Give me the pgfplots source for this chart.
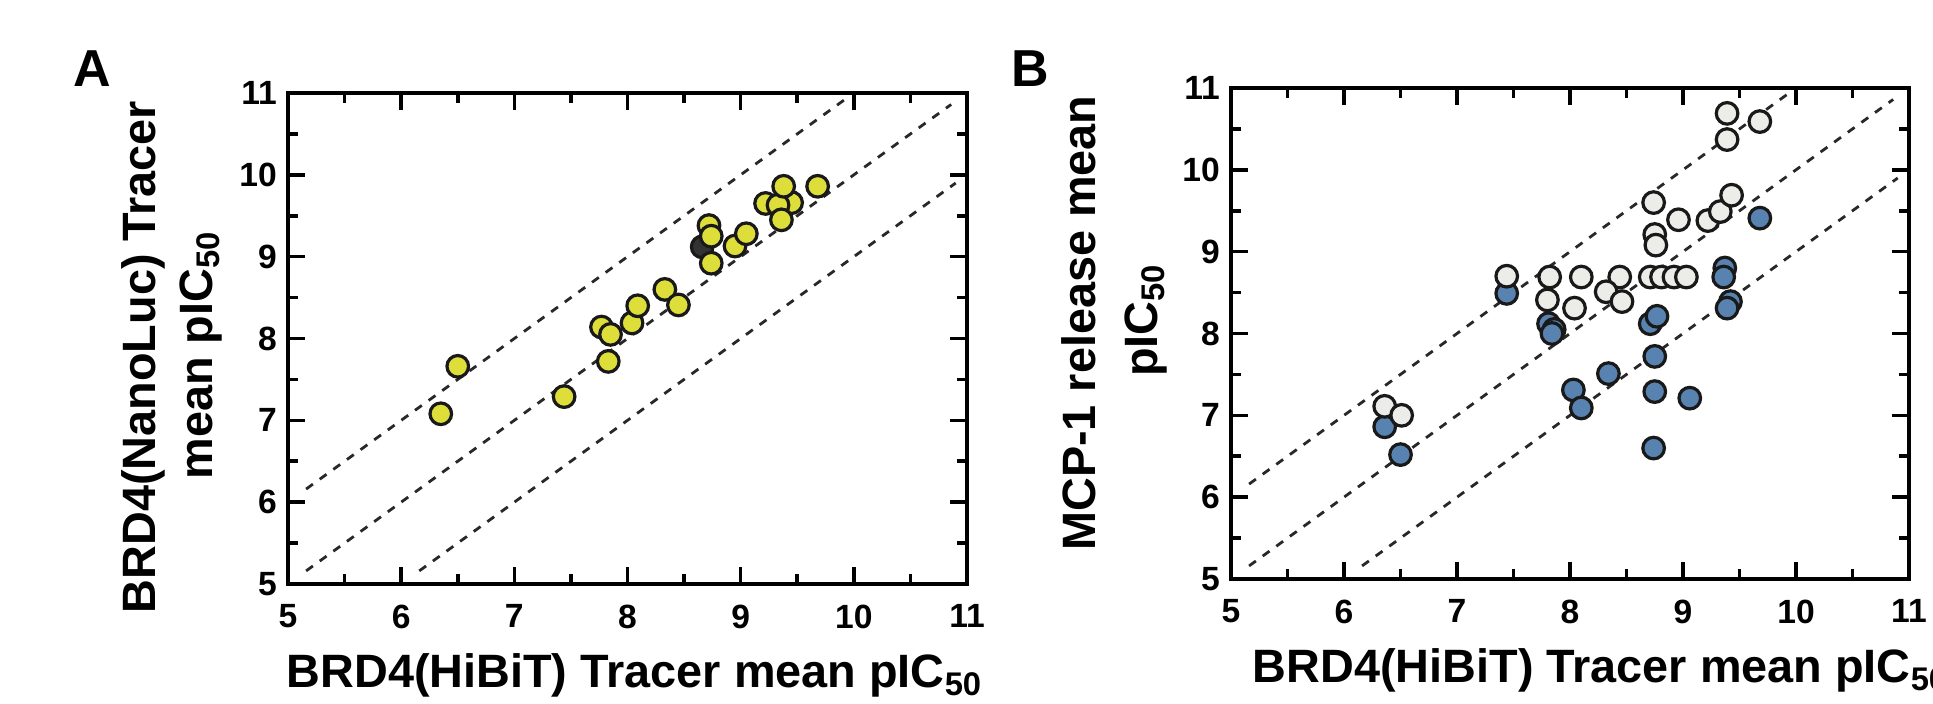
\documentclass[border=0pt]{standalone}
\usepackage{pgfplots}
\pgfplotsset{compat=1.18}
\usepackage{fontspec}
\setmainfont{Liberation Sans}
\definecolor{yel}{RGB}{222,222,58}
\definecolor{blu}{RGB}{88,130,175}
\definecolor{opn}{RGB}{236,236,232}
\definecolor{edge}{RGB}{25,25,25}
\definecolor{guidecol}{RGB}{40,40,40}
\pgfplotsset{
  panel/.style={
    scale only axis, width=169.75pt, height=122.75pt,
    xmin=5, xmax=11, ymin=5, ymax=11,
    xtick={5,6,...,11}, ytick={5,6,...,11},
    minor x tick num=1, minor y tick num=1,
    tick align=inside,
    major tick length=4.2pt, minor tick length=2.4pt,
    axis line style={line width=1.1pt},
    every tick/.style={black, line width=0.9pt},
    /pgf/number format/assume math mode=true,
    tick label style={font=\bfseries\fontsize{8.4}{10}\selectfont},
    xticklabel style={anchor=north, inner sep=0pt, yshift=-5pt},
    yticklabel style={anchor=east, inner sep=0pt, xshift=-2.6pt},
    clip=false,
  },
  guide/.style={color=guidecol, line width=0.7pt, dash pattern=on 2.1pt off 2.1pt},
  dot/.style={only marks, mark=*, mark size=2.7pt,
    mark options={fill=#1, draw=edge, line width=0.8pt}},
}
\begin{document}
\begin{tikzpicture}
\path[use as bounding box] (0,0) rectangle (483.25pt,176pt);

% ---------------- Panel A ----------------
\begin{axis}[panel, at={(72pt,30pt)}, anchor=south west]
\addplot[guide] coordinates {(5.16,6.16) (9.93,10.93)};
\addplot[guide] coordinates {(5.16,5.16) (10.86,10.86)};
\addplot[guide] coordinates {(6.16,5.16) (10.9,9.9)};
\addplot[dot=black!80] coordinates {(8.66,9.12)};
\addplot[dot=yel] coordinates {
(6.35,7.08) (6.50,7.66) (7.44,7.29) (7.83,7.72) (7.77,8.14) (7.85,8.05)
(8.04,8.19) (8.09,8.40) (8.33,8.60) (8.45,8.41) (8.72,9.38) (8.74,9.25)
(8.74,8.92) (8.95,9.13) (9.05,9.28) (9.22,9.65) (9.45,9.66) (9.33,9.63)
(9.38,9.86) (9.36,9.45) (9.68,9.86)
};
\end{axis}

% ---------------- Panel B ----------------
\begin{axis}[panel, at={(307.75pt,31.25pt)}, anchor=south west, width=169.5pt]
\addplot[guide] coordinates {(5.16,6.16) (9.93,10.93)};
\addplot[guide] coordinates {(5.16,5.16) (10.86,10.86)};
\addplot[guide] coordinates {(6.16,5.16) (10.9,9.9)};
\addplot[dot=blu] coordinates {
(7.44,8.49) (7.81,8.12) (7.86,8.05) (7.84,8.00)
(8.71,8.12) (8.77,8.21)
(9.37,8.80) (9.36,8.69) (9.42,8.39) (9.39,8.31)
(8.75,7.72) (8.34,7.51) (8.03,7.31) (8.10,7.09) (8.75,7.29) (9.06,7.21)
(8.74,6.60) (9.68,9.41) (6.36,6.86) (6.50,6.52)
};
\addplot[dot=opn] coordinates {
(9.39,10.69) (9.39,10.37) (9.68,10.59)
(8.74,9.60) (8.96,9.39) (9.22,9.38) (9.33,9.49) (9.43,9.69)
(8.75,9.21) (8.76,9.08)
(7.44,8.70) (7.82,8.69) (8.10,8.69) (8.44,8.69) (8.71,8.69) (8.81,8.69)
(8.92,8.69) (9.03,8.69)
(7.80,8.41) (8.04,8.31) (8.32,8.51) (8.46,8.39)
(6.36,7.11) (6.51,7.00)
};
\end{axis}

% ---------------- Text ----------------
\tikzset{lab/.style={inner sep=0pt, font=\bfseries\fontsize{11.7}{14}\selectfont}}
\node[anchor=base west, inner sep=0pt, font=\bfseries\fontsize{13}{15}\selectfont] at (18.25pt,154.25pt) {A};
\node[anchor=base west, inner sep=0pt, font=\bfseries\fontsize{13}{15}\selectfont] at (252.75pt,154.25pt) {B};

\node[lab, anchor=base west] at (71.5pt,4pt) {BRD4(HiBiT) Tracer mean pIC\textsubscript{50}};
\node[lab, anchor=base west] at (313pt,5.25pt) {BRD4(HiBiT) Tracer mean pIC\textsubscript{50}};

\node[lab, anchor=base, rotate=90] at (38.75pt,86.75pt) {BRD4(NanoLuc) Tracer};
\node[lab, anchor=base, rotate=90] at (53pt,87.25pt) {mean pIC\textsubscript{50}};
\node[lab, anchor=base, rotate=90] at (273.75pt,95.25pt) {MCP-1 release mean};
\node[lab, anchor=base, rotate=90] at (289.25pt,96pt) {pIC\textsubscript{50}};
\end{tikzpicture}
\end{document}
